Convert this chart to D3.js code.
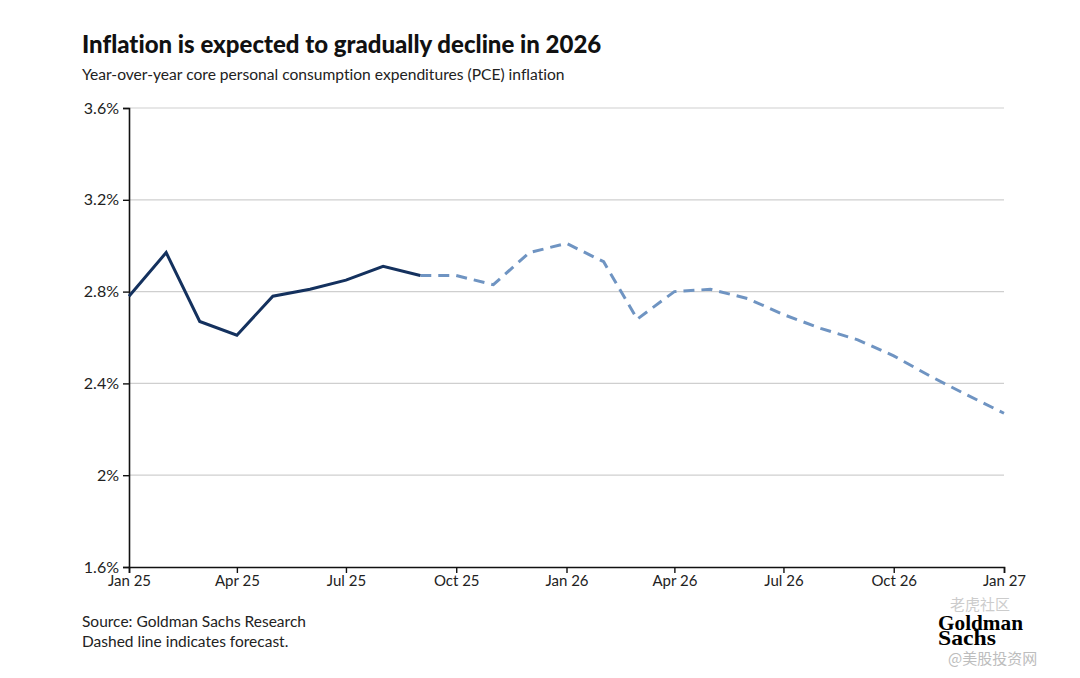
<!DOCTYPE html>
<html>
<head>
<meta charset="utf-8">
<script src="https://cdn.jsdelivr.net/npm/d3@7"></script>
<style>
  body { margin: 0; background: #fff; }
  svg { font-family: Lato, "Open Sans", sans-serif; font-variant-ligatures: none; }
</style>
</head>
<body>
<div id="chart"></div>
<script>
// actual readings, Jan 25 - Sep 25
const actualMonths = ["2025-01", "2025-02", "2025-03", "2025-04", "2025-05", "2025-06", "2025-07", "2025-08", "2025-09"];
const actualValues = [2.78, 2.97, 2.67, 2.61, 2.78, 2.81, 2.85, 2.91, 2.87];

// forecast, Sep 25 - Jan 27
const forecastMonths = ["2025-09", "2025-10", "2025-11", "2025-12", "2026-01", "2026-02", "2026-03", "2026-04", "2026-05",
    "2026-06", "2026-07", "2026-08", "2026-09", "2026-10", "2026-11", "2026-12", "2027-01"];
const forecastValues = [2.87, 2.87, 2.83, 2.97, 3.01, 2.93, 2.68, 2.80, 2.81,
    2.77, 2.70, 2.64, 2.59, 2.52, 2.43, 2.35, 2.27];

const yTicks = [1.6, 2.0, 2.4, 2.8, 3.2, 3.6];
const xTickMonths = ["2025-01", "2025-04", "2025-07", "2025-10", "2026-01", "2026-04", "2026-07", "2026-10", "2027-01"];

const w = 1080, h = 678;
const margin = {top: 108, right: 76, bottom: 111, left: 129};

const parse = d3.timeParse("%Y-%m");
const actual = actualMonths.map((m, i) => ({date: parse(m), value: actualValues[i]}));
const forecast = forecastMonths.map((m, i) => ({date: parse(m), value: forecastValues[i]}));

const svg = d3.select("#chart").append("svg")
    .attr("width", w)
    .attr("height", h);

const x = d3.scaleTime()
    .domain([parse("2025-01"), parse("2027-01")])
    .range([margin.left, w - margin.right]);

const y = d3.scaleLinear()
    .domain([1.6, 3.6])
    .range([h - margin.bottom, margin.top]);

// gridlines
svg.append("g")
    .selectAll("line")
    .data(yTicks.slice(1))
    .enter()
    .append("line")
    .attr("x1", margin.left)
    .attr("x2", w - margin.right)
    .attr("y1", d => y(d))
    .attr("y2", d => y(d))
    .attr("stroke", "#cfcfcf")
    .attr("stroke-width", 1.2);

// y axis
const fmt = d => d3.format(".1f")(d).replace(/\.0$/, "") + "%";
const yAxis = svg.append("g")
    .attr("transform", "translate(" + margin.left + ",0)")
    .call(d3.axisLeft(y).tickValues(yTicks).tickFormat(fmt).tickSize(6).tickPadding(4));

// x axis
const xAxis = svg.append("g")
    .attr("transform", "translate(0," + (h - margin.bottom) + ")")
    .call(d3.axisBottom(x).tickValues(xTickMonths.map(parse)).tickFormat(d3.timeFormat("%b %y")).tickSize(6).tickPadding(2));

[yAxis, xAxis].forEach(a => {
    a.select(".domain").attr("stroke", "#111").attr("stroke-width", 1.6);
    a.selectAll(".tick line").attr("stroke", "#111").attr("stroke-width", 1.4);
    a.selectAll("text").attr("fill", "#222").attr("font-family", "Lato, sans-serif");
});
yAxis.selectAll("text").attr("font-size", "16px");
xAxis.selectAll("text").attr("font-size", "15px");

const line = d3.line()
    .x(d => x(d.date))
    .y(d => y(d.value));

svg.append("path")
    .datum(forecast)
    .attr("fill", "none")
    .attr("stroke", "#6f94c2")
    .attr("stroke-width", 3)
    .attr("stroke-dasharray", "11,7")
    .attr("d", line);

svg.append("path")
    .datum(actual)
    .attr("fill", "none")
    .attr("stroke", "#14315e")
    .attr("stroke-width", 3)
    .attr("stroke-linejoin", "miter")
    .attr("d", line);

// title and notes
svg.append("text")
    .attr("x", 82).attr("y", 53)
    .attr("font-size", "24px").attr("font-weight", 900).attr("fill", "#111")
    .text("Inflation is expected to gradually decline in 2026");

svg.append("text")
    .attr("x", 82).attr("y", 80)
    .attr("font-size", "15.6px").attr("fill", "#222")
    .text("Year-over-year core personal consumption expenditures (PCE) inflation");

svg.append("text")
    .attr("x", 82).attr("y", 627)
    .attr("font-size", "15.5px").attr("fill", "#222")
    .text("Source: Goldman Sachs Research");

svg.append("text")
    .attr("x", 82).attr("y", 647)
    .attr("font-size", "15.5px").attr("fill", "#222")
    .text("Dashed line indicates forecast.");

// logo + watermark
svg.append("text")
    .attr("x", 950).attr("y", 610)
    .attr("font-size", "15px").attr("fill", "#cccccc")
    .attr("font-family", "'Noto Sans CJK SC', sans-serif")
    .text("老虎社区");

const logo = svg.append("g")
    .attr("font-family", "'Liberation Serif', serif")
    .attr("font-weight", 700)
    .attr("fill", "#000")
    .attr("font-size", "21px");
logo.append("text").attr("x", 938).attr("y", 630).attr("textLength", 85).attr("lengthAdjust", "spacingAndGlyphs").text("Goldman");
logo.append("text").attr("x", 938).attr("y", 645).attr("textLength", 58).attr("lengthAdjust", "spacingAndGlyphs").text("Sachs");

svg.append("text")
    .attr("x", 948).attr("y", 664)
    .attr("font-size", "15px").attr("fill", "#bdbdbd")
    .attr("font-family", "'Noto Sans CJK SC', sans-serif")
    .text("@美股投资网");
</script>
</body>
</html>
